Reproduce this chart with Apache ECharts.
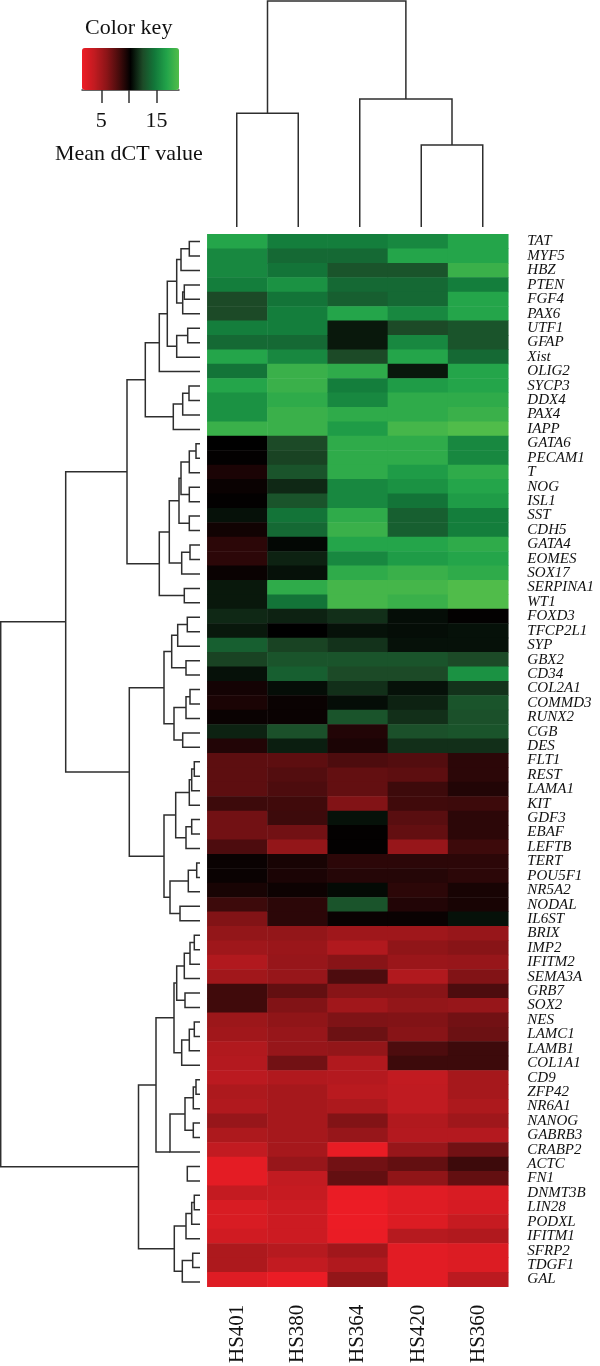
<!DOCTYPE html>
<html>
<head>
<meta charset="utf-8">
<script src="https://cdn.jsdelivr.net/npm/echarts@6/dist/echarts.min.js"></script>
<style>
  html, body { margin: 0; padding: 0; background: #ffffff; }
  #chart { width: 600px; height: 1366px; }
</style>
</head>
<body>
<div id="chart"></div>
<script>
// ---------- DATA ----------
const samples = ['HS401', 'HS380', 'HS364', 'HS420', 'HS360'];

const genes = ['TAT','MYF5','HBZ','PTEN','FGF4','PAX6','UTF1','GFAP','Xist','OLIG2','SYCP3','DDX4','PAX4','IAPP',
  'GATA6','PECAM1','T','NOG','ISL1','SST','CDH5','GATA4','EOMES','SOX17','SERPINA1','WT1',
  'FOXD3','TFCP2L1','SYP','GBX2','CD34','COL2A1','COMMD3','RUNX2','CGB','DES',
  'FLT1','REST','LAMA1','KIT','GDF3','EBAF','LEFTB','TERT','POU5F1','NR5A2','NODAL','IL6ST',
  'BRIX','IMP2','IFITM2','SEMA3A','GRB7','SOX2','NES','LAMC1','LAMB1','COL1A1',
  'CD9','ZFP42','NR6A1','NANOG','GABRB3','CRABP2','ACTC','FN1',
  'DNMT3B','LIN28','PODXL','IFITM1','SFRP2','TDGF1','GAL'];

// Mean dCT value per gene (row order above), one array per sample column
const HS401 = [17,15.5,15.5,15,12.5,12.5,15,14,17,14.5,17,16,16,18,
  10.3,10.2,9.5,10,10.2,10.8,9.8,9,9,10,11,11,
  11.5,11,13.5,12.3,10.8,9.7,9.5,10,11.3,9.3,
  7.5,7.5,7.5,8.5,6.8,6.8,8,10,10,9.6,8.5,6.3,
  5.7,5.2,4.4,5.1,8.4,8.4,5.3,5.1,4.4,4.3,
  4,4.6,4.4,5.5,4.6,3.7,2,2,
  3.6,2.6,2.6,3,4.6,4.6,2.3];
const HS380 = [15,14,14.5,16,14.5,15,15,14,15.5,18,18,17.5,18,18,
  12.5,12.3,13,11.5,13,14.5,14,10.5,11.3,10.8,17.5,14.5,
  11.3,10.3,12.3,13,13.5,10.7,10,10,12.8,11.2,
  7.5,7.8,8,8.4,8.5,6.8,5.7,9.6,9.5,9.9,9,9,
  5.7,5.4,5.5,5.5,7.3,6.3,5.8,5.5,5.5,6.8,
  4.4,4.9,4.9,4.9,4.9,4.9,5.5,3.7,
  3.5,3.2,3.2,3.2,4.2,3.7,1.7];
const HS364 = [15,14,13,14,13.5,17,11,11,12.5,17.5,15,15.5,17.5,16.5,
  17.5,17.5,17.5,15.5,15.5,17.5,18,17,15.5,17.5,18.5,18.5,
  11.7,10.8,11.8,13,12.5,11.7,10.7,13,9.3,9.5,
  8,7.3,7.3,6.3,10.8,10.2,10.2,9,9.2,10.6,13,10,
  5.2,4.4,6.1,8,6.1,5.1,6.4,7,5.7,4.4,
  4.3,4.1,4.6,6.3,5.5,1.8,6.8,7.3,
  1.7,1.6,1.6,1.7,5.1,4.4,5.7];
const HS420 = [15.5,17,13,14,14,15.5,12.5,15.5,17,11,16.5,17.5,17.5,18.5,
  17.5,17.5,16.5,16,14.5,13.5,13.5,17,16.5,18,18.5,18,
  10.7,10.7,10.8,13,12.5,10.8,11.3,11.7,12.8,11.7,
  7.8,7.5,8.5,8.4,7.6,7.3,5.5,9,9.2,9,9.3,10,
  5.2,5.8,5.4,4.4,6.1,5.7,6.3,6.1,8,8.5,
  3.7,3.8,3.8,4.4,4.3,5.5,7.3,5.8,
  2.2,2.3,2.4,4.2,2.1,2.1,2.1];
const HS360 = [17,17,18,15,17,17,13,13,14,17,17,17.5,18,19,
  15.5,15.5,17.5,17,16.5,15,15,17.5,17,17.5,19,19,
  10.2,10.8,10.8,12.5,16,11.8,13,12.8,13,11.7,
  9,9,9.3,8.5,9,9,8.5,9,9,9.6,9.6,10.8,
  5.5,6.1,5.5,6.3,8,5.5,6.8,7,8.5,8.5,
  4.9,4.9,4.6,5.2,4.3,6.8,8.5,7.3,
  2.6,2.7,3.5,4.4,2.4,2.4,4];

const keyTicks = [5, 10, 15];
const keyLabels = [5, 15];

// Row dendrogram: node = [mergeHeight, childA, childB, anchorOnB?]; leaves = row index (0-based)
const rowTreeA1 = [54.7,
  [40.7, [32.7, [23.3, [19, [10.7, 0, 1], 2], [17.3, [15.7, 3, 4], 5]], [23.3, [12.3, 6, 7], 8]], 9],
  [26.7, [17.3, [11, 10, 11], 12], 13]];
const rowTreeA2 = [40.7,
  [30.7, [21, [19, [10.7, [4, 14, 15], 16], [10.7, 17, 18]], [10.7, 19, 20]], [18.3, [10, 21, 22], 23]],
  [15.7, 24, 25]];
const rowTreeA3 = [70.7,
  [36, [28.3, [22.3, [12.7, 26, 27], 28], [14, 29, 30]], [26, [14, [10, 31, 32], 33], [17.3, 34, 35]]],
  [36, [24.3, [10.7, [8.3, [5.7, 36, 37], 38], 39], [14, [8.3, 40, 41], 42]],
       [30, [11.7, [3.3, 43, 44], 45], [20, 46, 47]]]];
const rowTreeB = [61.5,
  [44, [26, [23.3, [15.7, [10, [5.7, 48, 49], 50], 51], [15, 52, 53]], [18.3, [10.7, [5.7, 54, 55], 56], 57]],
       [30, [15, [6.7, [4, 58, 59], 60], [6.7, 61, 62]], 63, 1]],
  [25.7, [14, [8.3, [5.7, 66, 67], 68], 69], [17.7, [7.3, 70, 71], 72]]];
const rowTree = [199.3, [134.3, [73, rowTreeA1, rowTreeA2], rowTreeA3], rowTreeB];
const rowTreeLoose = [[12.7, 64, 65]];

// Column dendrogram
const colTree = [226, [113.7, 0, 1], [128, 2, [82, 3, 4]]];

// ---------- BUILD ----------
function layoutTree(node, out) {
  if (typeof node === 'number') return { p: node + 0.5, h: 0 };
  const a = layoutTree(node[1], out);
  const b = layoutTree(node[2], out);
  out.push([a.h, a.p, node[0], b.p, b.h]);
  return { p: node[3] ? b.p : (a.p + b.p) / 2, h: node[0] };
}
const rowSegs = [];
layoutTree(rowTree, rowSegs);
rowTreeLoose.forEach(n => layoutTree(n, rowSegs));
const colSegs = [];
layoutTree(colTree, colSegs);

const columns = [HS401, HS380, HS364, HS420, HS360];
const heatData = [];
columns.forEach((col, ci) => col.forEach((v, ri) => heatData.push([ci, ri, v])));

const serif = "'Liberation Serif', 'DejaVu Serif', serif";
const lineColor = '#2e2e2e';

const chart = echarts.init(document.getElementById('chart'), null, { renderer: 'canvas' });

chart.setOption({
  backgroundColor: '#ffffff',
  animation: false,
  title: [
    { text: 'Color key', left: 85, top: 17, padding: 0,
      textStyle: { fontFamily: serif, fontSize: 22, fontWeight: 'normal', color: '#111' } },
    { text: 'Mean dCT value', left: 55, top: 143, padding: 0,
      textStyle: { fontFamily: serif, fontSize: 22, fontWeight: 'normal', color: '#111' } }
  ],
  visualMap: {
    type: 'continuous',
    seriesIndex: 0,
    min: 1.5, max: 19.1,
    orient: 'horizontal',
    left: 82, top: 48,
    itemWidth: 42, itemHeight: 97,
    padding: 0,
    calculable: false,
    hoverLink: false,
    inRange: { color: ['#ee1c25', '#c21b21', '#8e1518', '#4a0c0d', '#000000',
                       '#1c4a27', '#12783a', '#22a44a', '#52bd4a'] }
  },
  grid: [
    { left: 207.3, top: 234.3, width: 301, height: 1055 },   // heatmap
    { left: 0, top: 234.3, width: 200, height: 1055 },       // row dendrogram
    { left: 206, top: 0, width: 307.5, height: 227 },        // column dendrogram
    { left: 82, top: 89, width: 97, height: 1 }              // key axis
  ],
  xAxis: [
    { gridIndex: 0, type: 'category', data: samples, position: 'bottom',
      axisLine: { show: false }, axisTick: { show: false }, splitLine: { show: false },
      axisLabel: { rotate: 90, margin: 18, fontFamily: serif, fontSize: 21, color: '#111' } },
    { gridIndex: 1, type: 'value', min: 0, max: 200, inverse: true, show: false },
    { gridIndex: 2, type: 'value', min: 0, max: 5, show: false },
    { gridIndex: 3, type: 'value', min: 1.5, max: 19.1, position: 'bottom',
      axisLine: { show: true, lineStyle: { color: '#333', width: 1.5 } },
      axisTick: { show: true, customValues: keyTicks, length: 13, lineStyle: { color: '#333', width: 1.5 } },
      axisLabel: { customValues: keyLabels, margin: 20, fontFamily: serif, fontSize: 22, color: '#111' },
      splitLine: { show: false } }
  ],
  yAxis: [
    { gridIndex: 0, type: 'category', data: genes, inverse: true, position: 'right',
      axisLine: { show: false }, axisTick: { show: false }, splitLine: { show: false },
      axisLabel: { margin: 19, fontFamily: serif, fontStyle: 'italic', fontSize: 15, color: '#111', interval: 0 } },
    { gridIndex: 1, type: 'value', min: 0, max: 73, inverse: true, show: false },
    { gridIndex: 2, type: 'value', min: 0, max: 227, show: false },
    { gridIndex: 3, type: 'value', show: false }
  ],
  series: [
    {
      type: 'heatmap', xAxisIndex: 0, yAxisIndex: 0, data: heatData,
      itemStyle: { borderWidth: 0 },
      emphasis: { disabled: true }, silent: true
    },
    {
      type: 'custom', xAxisIndex: 1, yAxisIndex: 1, data: rowSegs, silent: true,
      renderItem: function (params, api) {
        const p1 = api.coord([api.value(0), api.value(1)]);
        const p2 = api.coord([api.value(2), api.value(1)]);
        const p3 = api.coord([api.value(2), api.value(3)]);
        const p4 = api.coord([api.value(4), api.value(3)]);
        return { type: 'polyline', shape: { points: [p1, p2, p3, p4] },
          style: { fill: 'none', stroke: lineColor, lineWidth: 1.5 } };
      }
    },
    {
      type: 'custom', xAxisIndex: 2, yAxisIndex: 2, data: colSegs, silent: true,
      renderItem: function (params, api) {
        const p1 = api.coord([api.value(1), api.value(0)]);
        const p2 = api.coord([api.value(1), api.value(2)]);
        const p3 = api.coord([api.value(3), api.value(2)]);
        const p4 = api.coord([api.value(3), api.value(4)]);
        return { type: 'polyline', shape: { points: [p1, p2, p3, p4] },
          style: { fill: 'none', stroke: lineColor, lineWidth: 1.5 } };
      }
    }
  ]
});
</script>
</body>
</html>
